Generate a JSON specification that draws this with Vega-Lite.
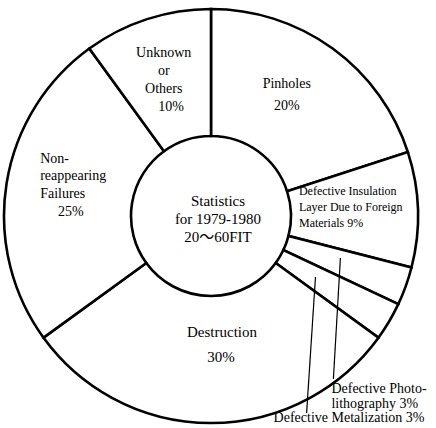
{
  "$schema": "https://vega.github.io/schema/vega-lite/v6.json",
  "width": 436,
  "height": 428,
  "autosize": {"type": "fit", "contains": "padding"},
  "padding": {"left": 0, "right": 12, "top": 4, "bottom": 0},
  "background": "white",
  "config": {
    "view": {"stroke": null},
    "text": {"font": "Liberation Serif, 'Noto Sans CJK JP', serif", "fontSize": 14, "color": "black", "lineBreak": "\n", "baseline": "middle"}
  },
  "datasets": {
    "causes": [
      {"cause": "Pinholes", "pct": 20, "order": 1, "label": "Pinholes", "share": "20%"},
      {"cause": "Defective Insulation Layer", "pct": 9, "order": 2, "label": "Defective Insulation\nLayer Due to Foreign\nMaterials", "share": "9%"},
      {"cause": "Defective Photolithography", "pct": 3, "order": 3, "label": "Defective Photo-\nlithography", "share": "3%"},
      {"cause": "Defective Metalization", "pct": 3, "order": 4, "label": "Defective Metalization", "share": "3%"},
      {"cause": "Destruction", "pct": 30, "order": 5, "label": "Destruction", "share": "30%"},
      {"cause": "Non-reappearing Failures", "pct": 25, "order": 6, "label": "Non-\nreappearing\nFailures", "share": "25%"},
      {"cause": "Unknown or Others", "pct": 10, "order": 7, "label": "Unknown\nor\nOthers", "share": "10%"}
    ],
    "leaders": [
      {"cause": "Defective Photolithography", "x": 0.628, "y": -0.203, "x2": 0.594, "y2": -0.787},
      {"cause": "Defective Metalization", "x": 0.507, "y": -0.295, "x2": 0.464, "y2": -0.952}
    ],
    "note": [{"text": "Statistics\nfor 1979-1980\n20～60FIT"}]
  },
  "layer": [
    {
      "data": {"name": "causes"},
      "mark": {"type": "arc", "innerRadius": 80, "outerRadius": 207, "fill": "white", "stroke": "black", "strokeWidth": 2.6},
      "encoding": {
        "theta": {"field": "pct", "type": "quantitative", "stack": true},
        "order": {"field": "order", "type": "quantitative", "sort": "ascending"}
      }
    },
    {
      "data": {"name": "leaders"},
      "mark": {"type": "rule", "stroke": "black", "strokeWidth": 1.2},
      "encoding": {
        "x": {"field": "x", "type": "quantitative", "scale": {"domain": [-1.024, 1.024]}, "axis": null},
        "y": {"field": "y", "type": "quantitative", "scale": {"domain": [-1.024, 1.024]}, "axis": null},
        "x2": {"field": "x2"},
        "y2": {"field": "y2"}
      }
    },
    {
      "data": {"name": "leaders"},
      "transform": [
        {"filter": "datum.cause === 'Defective Photolithography'"},
        {"lookup": "cause", "from": {"data": {"name": "causes"}, "key": "cause", "fields": ["label", "share"]}},
        {"calculate": "datum.label + ' ' + datum.share", "as": "full"}
      ],
      "mark": {"type": "text", "align": "left", "lineHeight": 15, "dx": -2, "dy": 10},
      "encoding": {
        "x": {"field": "x2", "type": "quantitative", "scale": {"domain": [-1.024, 1.024]}, "axis": null},
        "y": {"field": "y2", "type": "quantitative", "scale": {"domain": [-1.024, 1.024]}, "axis": null},
        "text": {"field": "full"}
      }
    },
    {
      "data": {"name": "leaders"},
      "transform": [
        {"filter": "datum.cause === 'Defective Metalization'"},
        {"lookup": "cause", "from": {"data": {"name": "causes"}, "key": "cause", "fields": ["label", "share"]}},
        {"calculate": "datum.label + ' ' + datum.share", "as": "full"}
      ],
      "mark": {"type": "text", "align": "left", "dx": -33, "dy": 5},
      "encoding": {
        "x": {"field": "x2", "type": "quantitative", "scale": {"domain": [-1.024, 1.024]}, "axis": null},
        "y": {"field": "y2", "type": "quantitative", "scale": {"domain": [-1.024, 1.024]}, "axis": null},
        "text": {"field": "full"}
      }
    },
    {
      "data": {"name": "causes"},
      "mark": {"type": "text", "radius": 151, "dx": -13, "dy": -10},
      "encoding": {
        "theta": {"field": "pct", "type": "quantitative", "stack": true},
        "order": {"field": "order", "type": "quantitative", "sort": "ascending"},
        "text": {"condition": {"test": "datum.cause === 'Pinholes'", "field": "label"}, "value": ""}
      }
    },
    {
      "data": {"name": "causes"},
      "mark": {"type": "text", "radius": 134, "dx": -3, "dy": -2},
      "encoding": {
        "theta": {"field": "pct", "type": "quantitative", "stack": true},
        "order": {"field": "order", "type": "quantitative", "sort": "ascending"},
        "text": {"condition": {"test": "datum.cause === 'Pinholes'", "field": "share"}, "value": ""}
      }
    },
    {
      "data": {"name": "causes"},
      "transform": [{"calculate": "datum.label + ' ' + datum.share", "as": "full"}],
      "mark": {"type": "text", "radius": 88, "dy": -22, "align": "left", "fontSize": 12, "lineHeight": 16},
      "encoding": {
        "theta": {"field": "pct", "type": "quantitative", "stack": true},
        "order": {"field": "order", "type": "quantitative", "sort": "ascending"},
        "text": {"condition": {"test": "datum.cause === 'Defective Insulation Layer'", "field": "full"}, "value": ""}
      }
    },
    {
      "data": {"name": "causes"},
      "mark": {"type": "text", "radius": 116, "dx": 11, "fontSize": 15},
      "encoding": {
        "theta": {"field": "pct", "type": "quantitative", "stack": true},
        "order": {"field": "order", "type": "quantitative", "sort": "ascending"},
        "text": {"condition": {"test": "datum.cause === 'Destruction'", "field": "label"}, "value": ""}
      }
    },
    {
      "data": {"name": "causes"},
      "mark": {"type": "text", "radius": 141, "dx": 10, "fontSize": 15},
      "encoding": {
        "theta": {"field": "pct", "type": "quantitative", "stack": true},
        "order": {"field": "order", "type": "quantitative", "sort": "ascending"},
        "text": {"condition": {"test": "datum.cause === 'Destruction'", "field": "share"}, "value": ""}
      }
    },
    {
      "data": {"name": "causes"},
      "mark": {"type": "text", "radius": 175, "dx": 2, "dy": -30, "align": "left", "lineHeight": 17.5},
      "encoding": {
        "theta": {"field": "pct", "type": "quantitative", "stack": true},
        "order": {"field": "order", "type": "quantitative", "sort": "ascending"},
        "text": {"condition": {"test": "datum.cause === 'Non-reappearing Failures'", "field": "label"}, "value": ""}
      }
    },
    {
      "data": {"name": "causes"},
      "mark": {"type": "text", "radius": 139, "dx": -3, "dy": 18},
      "encoding": {
        "theta": {"field": "pct", "type": "quantitative", "stack": true},
        "order": {"field": "order", "type": "quantitative", "sort": "ascending"},
        "text": {"condition": {"test": "datum.cause === 'Non-reappearing Failures'", "field": "share"}, "value": ""}
      }
    },
    {
      "data": {"name": "causes"},
      "mark": {"type": "text", "radius": 153, "dy": -17, "lineHeight": 18},
      "encoding": {
        "theta": {"field": "pct", "type": "quantitative", "stack": true},
        "order": {"field": "order", "type": "quantitative", "sort": "ascending"},
        "text": {"condition": {"test": "datum.cause === 'Unknown or Others'", "field": "label"}, "value": ""}
      }
    },
    {
      "data": {"name": "causes"},
      "mark": {"type": "text", "radius": 116, "dx": -4, "dy": 1},
      "encoding": {
        "theta": {"field": "pct", "type": "quantitative", "stack": true},
        "order": {"field": "order", "type": "quantitative", "sort": "ascending"},
        "text": {"condition": {"test": "datum.cause === 'Unknown or Others'", "field": "share"}, "value": ""}
      }
    },
    {
      "data": {"name": "note"},
      "mark": {"type": "text", "fontSize": 15, "lineHeight": 18, "dx": 7, "dy": -15},
      "encoding": {
        "text": {"field": "text"}
      }
    }
  ]
}
